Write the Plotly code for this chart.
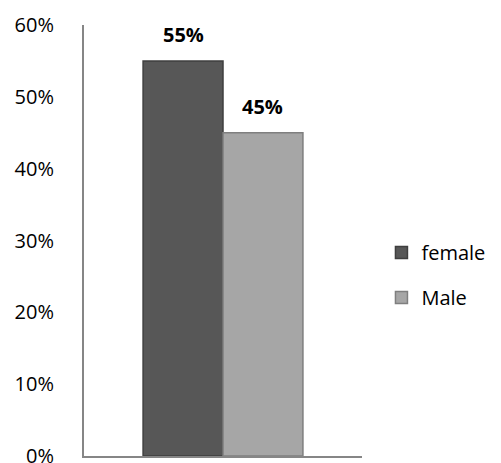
import plotly.graph_objects as go

categories = [""]
series_names = ["female", "Male"]
female_values = [55]
male_values = [45]
tick_vals = [0, 10, 20, 30, 40, 50, 60]
tick_text = ["0%", "10%", "20%", "30%", "40%", "50%", "60%"]

colors = ["#575757", "#a6a6a6"]
borders = ["#3f3f3f", "#7f7f7f"]
BARGAP = 0.425

fig = go.Figure()
series = [female_values, male_values]
n = len(series)
bw = (1 - BARGAP) / n
for i, (name, vals, c, b) in enumerate(zip(series_names, series, colors, borders)):
    fig.add_trace(go.Bar(
        x=categories, y=vals, name=name, legendgroup=name,
        marker=dict(color=c, line=dict(color=b, width=1.5)),
        cliponaxis=False,
    ))
    off = -(1 - BARGAP) / 2 + bw * (i + 0.5)
    for k, v in enumerate(vals):
        fig.add_annotation(
            x=k + off, y=v, xref="x", yref="y", text=f"<b>{v}%</b>",
            showarrow=False, yanchor="bottom", yshift=11,
            font=dict(family="Open Sans", size=20, color="#000000"),
        )

fig.update_layout(
    width=501, height=463,
    margin=dict(l=84, r=139, t=25, b=7),
    paper_bgcolor="white", plot_bgcolor="white",
    barmode="group", bargap=BARGAP, bargroupgap=0,
    font=dict(family="Open Sans", size=20, color="#000000"),
    showlegend=True,
    legend=dict(x=1.07, y=0.42, xanchor="left", yanchor="middle",
                tracegroupgap=16, font=dict(size=20)),
    xaxis=dict(showline=True, linecolor="#868686", linewidth=2,
               showticklabels=False, ticks="", range=[-0.5, 0.5]),
    yaxis=dict(range=[0, 60], tickvals=tick_vals, ticktext=tick_text,
               showline=True, linecolor="#868686", linewidth=2,
               showgrid=False, zeroline=False, ticks="outside", ticklen=0,
               ticklabelstandoff=24, ticklabeloverflow="allow", automargin=False),
)

fig.write_html("out.html", config={"displayModeBar": False},
               post_script="document.body.style.margin='0';")
